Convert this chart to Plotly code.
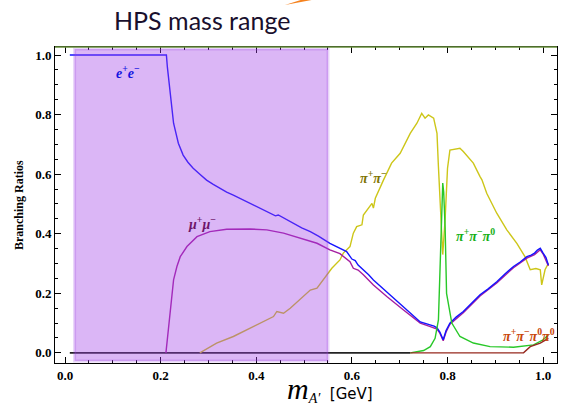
import plotly.graph_objects as go

# ---- branching ratios of the dark photon A' vs its mass (GeV) ----
x_ee = [0.010, 0.212, 0.214, 0.217, 0.220, 0.227, 0.237, 0.247, 0.257, 0.268,
        0.282, 0.296, 0.310, 0.324, 0.338, 0.352, 0.370, 0.387, 0.400, 0.415,
        0.430, 0.440, 0.446, 0.460, 0.478, 0.495, 0.513, 0.530, 0.554, 0.570,
        0.589, 0.600, 0.607, 0.613, 0.624, 0.635, 0.645, 0.660, 0.673, 0.690,
        0.708, 0.725, 0.743, 0.755, 0.764, 0.772, 0.778, 0.784, 0.791, 0.797,
        0.805, 0.818, 0.833, 0.850, 0.868, 0.885, 0.903, 0.920, 0.938, 0.952,
        0.966, 0.975, 0.982, 0.988, 0.994, 1.000, 1.006, 1.011]
y_ee = [1.000, 1.000, 0.960, 0.920, 0.883, 0.771, 0.704, 0.664, 0.640, 0.620,
        0.600, 0.580, 0.566, 0.553, 0.540, 0.530, 0.516, 0.503, 0.492, 0.480,
        0.468, 0.460, 0.463, 0.450, 0.435, 0.420, 0.407, 0.392, 0.368, 0.355,
        0.340, 0.315, 0.310, 0.295, 0.279, 0.262, 0.245, 0.224, 0.206, 0.180,
        0.155, 0.130, 0.104, 0.098, 0.094, 0.090, 0.084, 0.070, 0.044, 0.075,
        0.100, 0.120, 0.139, 0.167, 0.195, 0.215, 0.239, 0.265, 0.290, 0.305,
        0.323, 0.328, 0.335, 0.345, 0.351, 0.335, 0.320, 0.295]

x_mm = [0.211, 0.213, 0.216, 0.220, 0.227, 0.234, 0.241, 0.255, 0.276, 0.303,
        0.338, 0.387, 0.422, 0.457, 0.492, 0.527, 0.554, 0.575, 0.596, 0.603,
        0.613, 0.624, 0.645, 0.673, 0.708, 0.743, 0.764, 0.778, 0.784, 0.791,
        0.797, 0.805, 0.833, 0.868, 0.903, 0.938, 0.966, 0.982, 0.994, 1.000,
        1.011]
y_mm = [0.000, 0.030, 0.090, 0.135, 0.245, 0.290, 0.323, 0.357, 0.390, 0.407,
        0.415, 0.416, 0.413, 0.402, 0.385, 0.368, 0.346, 0.333, 0.306, 0.284,
        0.278, 0.262, 0.228, 0.189, 0.144, 0.100, 0.088, 0.080, 0.066, 0.041,
        0.070, 0.096, 0.135, 0.191, 0.235, 0.286, 0.318, 0.330, 0.346, 0.332,
        0.292]

x_pipi = [0.282, 0.317, 0.352, 0.387, 0.436, 0.443, 0.457, 0.471, 0.513, 0.527,
          0.540, 0.558, 0.575, 0.582, 0.596, 0.603, 0.610, 0.621, 0.624, 0.638,
          0.642, 0.645, 0.649, 0.666, 0.683, 0.701, 0.722, 0.736, 0.746, 0.753,
          0.760, 0.771, 0.778, 0.781, 0.785, 0.790, 0.795, 0.800, 0.805, 0.826,
          0.833, 0.854, 0.868, 0.872, 0.882, 0.903, 0.924, 0.945, 0.962, 0.973,
          0.985, 0.994, 0.997, 1.004, 1.011]
y_pipi = [0.000, 0.033, 0.055, 0.083, 0.122, 0.139, 0.133, 0.150, 0.211, 0.217,
          0.245, 0.284, 0.312, 0.335, 0.357, 0.402, 0.424, 0.430, 0.463, 0.491,
          0.502, 0.486, 0.519, 0.580, 0.637, 0.670, 0.737, 0.771, 0.804, 0.788,
          0.799, 0.788, 0.737, 0.625, 0.480, 0.330, 0.450, 0.620, 0.681, 0.687,
          0.676, 0.637, 0.592, 0.581, 0.536, 0.469, 0.413, 0.368, 0.323, 0.279,
          0.283, 0.279, 0.228, 0.279, 0.301]

x_3pi = [0.722, 0.750, 0.764, 0.774, 0.781, 0.785, 0.788, 0.790, 0.792, 0.795,
         0.798, 0.809, 0.826, 0.854, 0.889, 0.938, 0.980, 1.000, 1.011]
y_3pi = [0.000, 0.008, 0.021, 0.049, 0.111, 0.312, 0.500, 0.570, 0.540, 0.420,
         0.200, 0.100, 0.055, 0.033, 0.021, 0.019, 0.027, 0.044, 0.060]

x_4pi = [0.722, 0.959, 0.973, 0.994, 1.011]
y_4pi = [0.000, 0.000, 0.021, 0.033, 0.049]

# channels that stay closed below the hadronic thresholds
x_closed = [0.010, 0.722]
y_closed = [0.0, 0.0]

# HPS reach in mass
hps_range = [0.02, 0.55]

# curve labels: text, x, y, colour
label_text = ["<i>e</i><sup>+</sup><i>e</i><sup>−</sup>",
              "<i>μ</i><sup>+</sup><i>μ</i><sup>−</sup>",
              "<i>π</i><sup>+</sup><i>π</i><sup>−</sup>",
              "<i>π</i><sup>+</sup><i>π</i><sup>−</sup><i>π</i><sup>0</sup>",
              "<i>π</i><sup>+</sup><i>π</i><sup>−</sup><i>π</i><sup>0</sup><i>π</i><sup>0</sup>"]
label_x = [0.132, 0.287, 0.646, 0.858, 0.971]
label_y = [0.943, 0.436, 0.590, 0.396, 0.060]
label_col = ["rgb(20,20,225)", "rgb(110,20,105)", "rgb(125,115,0)",
             "rgb(20,175,20)", "rgb(200,70,10)"]

fig = go.Figure()

def add_line(x, y, color, width=1.4):
    fig.add_trace(go.Scatter(x=x, y=y, mode="lines",
                             line=dict(color=color, width=width),
                             hoverinfo="skip", showlegend=False))

add_line(x_closed, y_closed, "rgb(35,35,35)", 1.6)
add_line(x_pipi, y_pipi, "rgb(205,198,25)")
add_line(x_mm, y_mm, "rgb(165,30,160)")
add_line(x_ee, y_ee, "rgb(20,20,255)")
add_line(x_3pi, y_3pi, "rgb(40,200,40)")
add_line(x_4pi, y_4pi, "rgb(150,40,30)")

# shaded HPS mass range
fig.add_shape(type="rect", xref="x", yref="y",
              x0=hps_range[0], x1=hps_range[1], y0=-0.027, y1=1.02,
              fillcolor="rgba(160,62,232,0.38)",
              line=dict(color="rgba(150,60,225,0.22)", width=3),
              layer="above")

# olive top frame
fig.add_shape(type="line", xref="paper", yref="paper", x0=0, x1=1, y0=1, y1=1,
              line=dict(color="rgb(105,145,60)", width=1.6), layer="above")

# small orange corner mark at the top
fig.add_shape(type="path", xref="paper", yref="paper",
              path="M 0.458 1.133 L 0.512 1.149 L 0.49 1.149 Z",
              fillcolor="rgb(245,130,30)", line=dict(width=0))

for t, lx, ly, c in zip(label_text, label_x, label_y, label_col):
    fig.add_annotation(x=lx, y=ly, xref="x", yref="y", text=t, showarrow=False,
                       xanchor="center", yanchor="middle",
                       font=dict(family="Liberation Serif", size=14, color=c,
                                 weight="bold"))

fig.add_annotation(x=(202 - 55) / 502, y=(363 - 20) / 316, xref="paper", yref="paper",
                   text="HPS mass range", showarrow=False,
                   xanchor="center", yanchor="middle",
                   font=dict(family="Lato", size=25, color="rgb(25,15,45)"))

fig.add_annotation(x=(19 - 55) / 502, y=(363 - 205) / 316, xref="paper", yref="paper",
                   text="Branching Ratios", showarrow=False, textangle=-90,
                   xanchor="center", yanchor="middle",
                   font=dict(family="Liberation Serif", size=12, color="black",
                             weight="bold"))

fig.add_annotation(x=(330 - 55) / 502, y=(363 - 389) / 316, xref="paper", yref="paper",
                   text='<span style="font-family:Liberation Serif;font-size:30px"><i>m</i></span>'
                        '<span style="font-family:Liberation Serif;font-size:20px"><sub><i>A′</i></sub></span>'
                        '  [GeV]',
                   showarrow=False, xanchor="center", yanchor="middle",
                   font=dict(family="DejaVu Sans", size=15, color="black"))

axis_common = dict(showline=True, linecolor="black", linewidth=1, mirror="ticks",
                   ticks="inside", ticklen=6, tickwidth=1, tickcolor="black",
                   showgrid=False, zeroline=False, tickformat=".1f",
                   tickfont=dict(family="Liberation Serif", size=13, color="black",
                                 weight="bold"),
                   minor=dict(ticks="inside", ticklen=3, tickcolor="black",
                              dtick=0.05, showgrid=False))

fig.update_xaxes(range=[-0.021, 1.029], dtick=0.2, tick0=0, **axis_common)
fig.update_yaxes(range=[-0.034, 1.027], dtick=0.2, tick0=0, **axis_common)

fig.update_layout(width=561, height=407,
                  margin=dict(l=55, r=4, t=47, b=44),
                  paper_bgcolor="white", plot_bgcolor="white")

fig.write_html("out.html")
